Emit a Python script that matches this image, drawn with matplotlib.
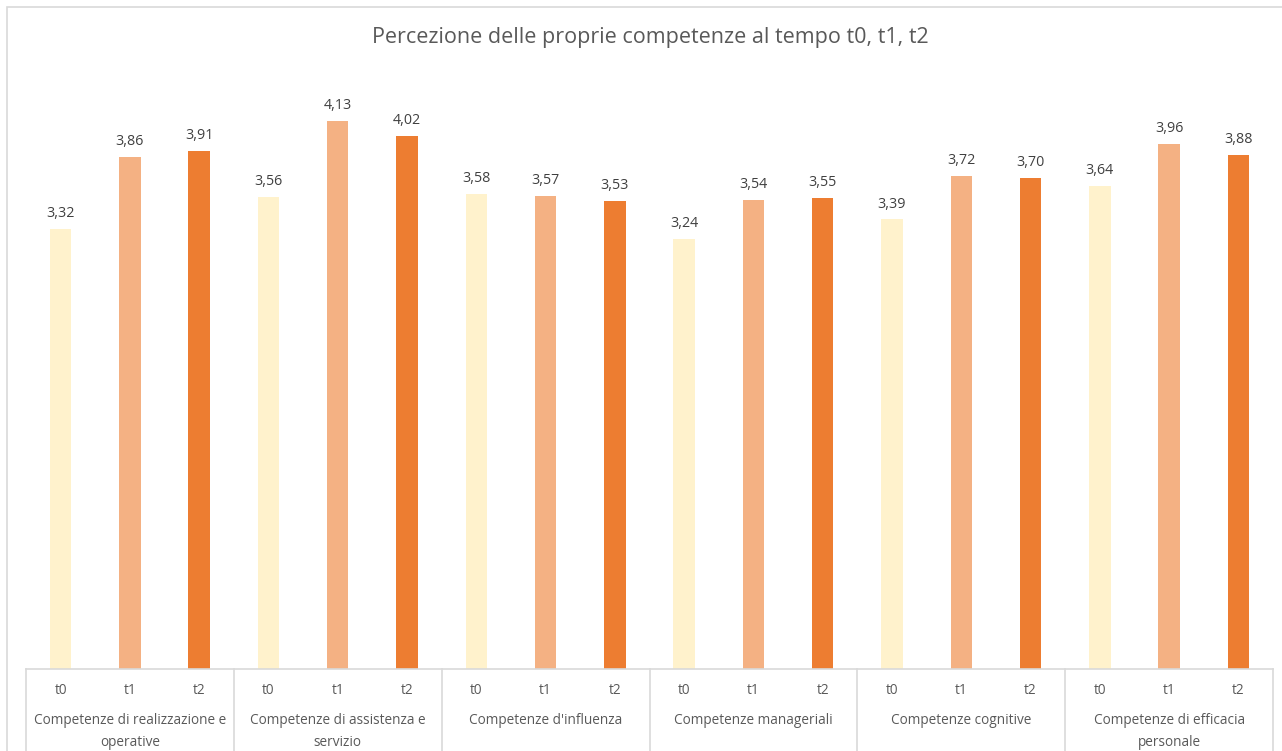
import matplotlib.pyplot as plt
from matplotlib.patches import Rectangle
import numpy as np

groups = ["Competenze di realizzazione e\noperative",
          "Competenze di assistenza e\nservizio",
          "Competenze d'influenza",
          "Competenze manageriali",
          "Competenze cognitive",
          "Competenze di efficacia\npersonale"]
times = ["t0", "t1", "t2"]
t0 = [3.32, 3.56, 3.58, 3.24, 3.39, 3.64]
t1 = [3.86, 4.13, 3.57, 3.54, 3.72, 3.96]
t2 = [3.91, 4.02, 3.53, 3.55, 3.70, 3.88]

colors = ["#FFF2CC", "#F4B183", "#ED7D31"]
grid_col = "#D9D9D9"
text_col = "#595959"

plt.rcParams['font.family'] = ['Open Sans', 'DejaVu Sans']

W, H = 1282, 751
fig = plt.figure(figsize=(W/100, H/100), dpi=100)

# outer chart frame
fig.patches.append(Rectangle((7/W, -0.05), (1290-7)/W, 1.05 - 7/H, transform=fig.transFigure,
                             fill=False, edgecolor=grid_col, linewidth=1.2))

left, right = 26, 1273
base = 669
ppu = 132.6
ymax = 4.5
ax = fig.add_axes([left/W, (H-base)/H, (right-left)/W, ymax*ppu/H])

series = [t0, t1, t2]
ng = len(groups)
x = np.arange(ng*3)
for k in range(3):
    xs = np.arange(ng)*3 + k
    ax.bar(xs, series[k], width=0.31, color=colors[k], zorder=2)
    for xi, v in zip(xs, series[k]):
        ax.text(xi, v + 0.06, ("%.2f" % v).replace('.', ','), ha='center', va='bottom',
                fontsize=10.3, color="#404040")

ax.set_xlim(-0.5, ng*3 - 0.5)
ax.set_ylim(0, ymax)
ax.set_yticks([])
ax.set_xticks([])
for s in ['top', 'right', 'left']:
    ax.spines[s].set_visible(False)
ax.spines['bottom'].set_color(grid_col)
ax.spines['bottom'].set_linewidth(1.2)

# multi-level category axis
trans = ax.get_xaxis_transform()
ax_h = ymax*ppu
for g in range(ng + 1):
    xb = g*3 - 0.5
    ax.plot([xb, xb], [0, -(H - base + 10)/ax_h], transform=trans, color=grid_col,
            linewidth=1.2, clip_on=False)
for i in x:
    ax.text(i, -(690 - base)/ax_h, times[i % 3], transform=trans, ha='center', va='center',
            fontsize=9.8, color=text_col)
for g in range(ng):
    ax.text(g*3 + 1, -(713 - base)/ax_h, groups[g], transform=trans, ha='center', va='top',
            fontsize=9.8, color=text_col, linespacing=1.6)

fig.text(650/W, 1 - 38/H, "Percezione delle proprie competenze al tempo t0, t1, t2",
         ha='center', va='center', fontsize=15.5, color=text_col)

fig.savefig("out.png", dpi=100)
